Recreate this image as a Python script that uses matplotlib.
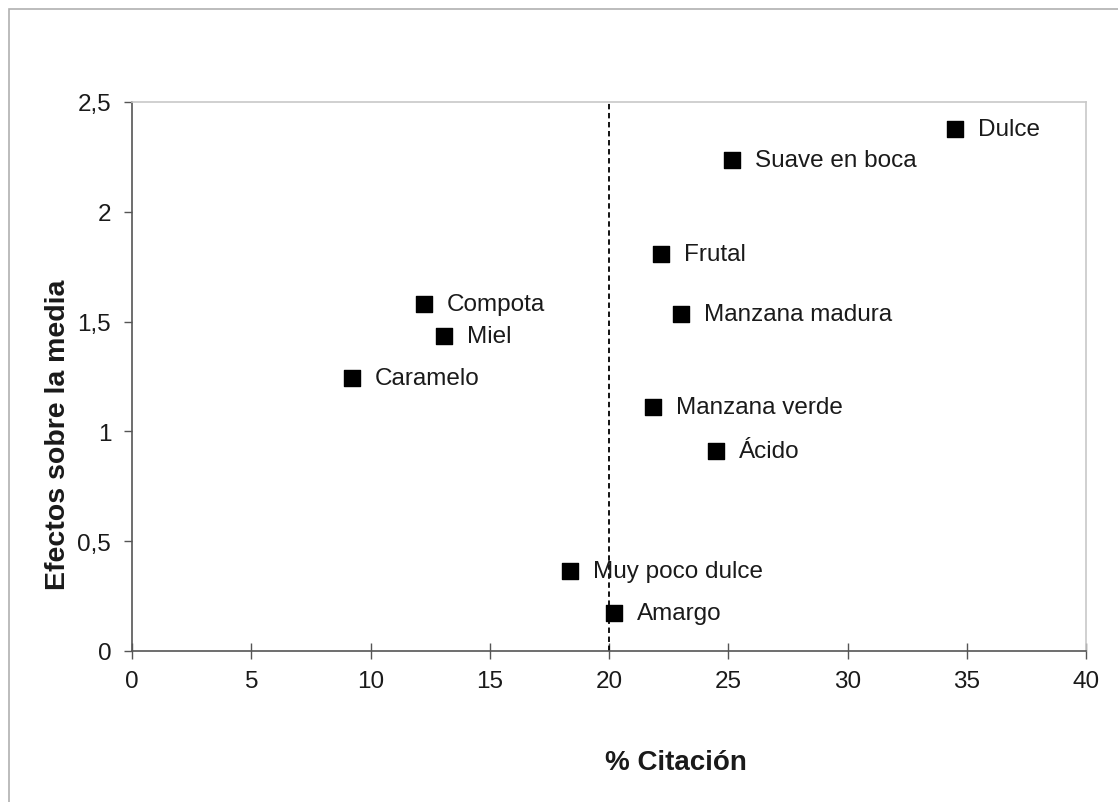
import matplotlib.pyplot as plt
from matplotlib.patches import Rectangle

plt.rcParams['font.family'] = ['Liberation Sans', 'DejaVu Sans']

labels = ['Dulce', 'Suave en boca', 'Frutal', 'Manzana madura', 'Compota', 'Miel',
          'Caramelo', 'Manzana verde', 'Ácido', 'Muy poco dulce', 'Amargo']
citacion = [34.5, 25.16, 22.18, 23.02, 12.24, 13.08, 9.22, 21.85, 24.49, 18.36, 20.21]
efectos = [2.377, 2.236, 1.808, 1.535, 1.580, 1.434, 1.243, 1.111, 0.911, 0.364, 0.173]

xticks = [0, 5, 10, 15, 20, 25, 30, 35, 40]
yticks = [0, 0.5, 1, 1.5, 2, 2.5]
yticklabels = ['0', '0,5', '1', '1,5', '2', '2,5']

fig = plt.figure(figsize=(11.18, 8.03), dpi=100)
# outer frame (right/bottom edges fall outside the image)
fig.patches.append(Rectangle((9 / 1118, -0.1), 2, 1.1 - 10 / 803,
                             transform=fig.transFigure, fill=False,
                             edgecolor='#b0b0b0', linewidth=1.2))
ax = fig.add_axes([132 / 1118, 151 / 803, 954 / 1118, 549 / 803])

ax.axvline(20, color='black', linestyle=(0, (3, 2)), linewidth=1.3)
ax.scatter(citacion, efectos, marker='s', s=135, color='black', zorder=3)
for x, y, t in zip(citacion, efectos, labels):
    ax.annotate(t, (x, y), xytext=(23, 0), textcoords='offset pixels',
                va='center', ha='left', fontsize=17.5, color='#1a1a1a')

ax.set_xlim(0, 40)
ax.set_ylim(0, 2.5)
ax.set_xticks(xticks)
ax.set_xticklabels([str(v) for v in xticks])
ax.set_yticks(yticks)
ax.set_yticklabels(yticklabels)
ax.tick_params(axis='x', direction='inout', length=11, width=1, colors='#555555',
               labelcolor='#1a1a1a', labelsize=17.5, pad=8)
ax.tick_params(axis='y', direction='out', length=6, width=1, colors='#555555',
               labelcolor='#1a1a1a', labelsize=17.5, pad=9)

for s in ['left', 'bottom']:
    ax.spines[s].set_color('#555555')
    ax.spines[s].set_linewidth(1.2)
for s in ['top', 'right']:
    ax.spines[s].set_color('#c8c8c8')
    ax.spines[s].set_linewidth(1.2)

fig.text(676 / 1118, 1 - 763 / 803, '% Citación', fontsize=20, fontweight='bold',
         color='#1a1a1a', ha='center', va='center')
fig.text(58 / 1118, 1 - 435 / 803, 'Efectos sobre la media', fontsize=20.5,
         fontweight='bold', color='#1a1a1a', ha='center', va='center', rotation=90)

fig.savefig('out.png', dpi=100)
